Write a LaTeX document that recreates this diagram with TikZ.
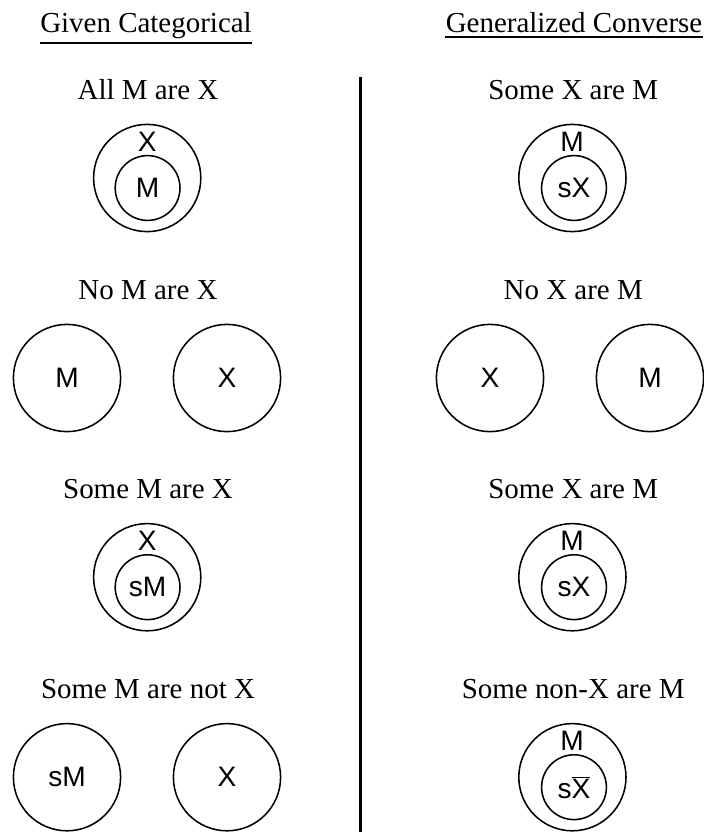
\documentclass[tikz,border=0pt]{standalone}
\usepackage{fontspec}
\setmainfont{Liberation Serif}
\setsansfont{Liberation Sans}
\begin{document}
\begin{tikzpicture}[
        head/.style = {anchor=base, inner sep=0pt, font=\fontsize{20.6}{24}\selectfont},
        caption/.style = {anchor=base, inner sep=0pt, font=\fontsize{20.6}{24}\selectfont},
        big/.style = {circle, draw, line width=1.1pt, minimum size=2.68cm, inner sep=0pt},
        small/.style = {circle, draw, line width=1.1pt, minimum size=1.62cm, inner sep=0pt, font=\sffamily\fontsize{20}{24}\selectfont},
        letter/.style = {inner sep=0pt, font=\sffamily\fontsize{20}{24}\selectfont}
    ]
        \useasboundingbox (0,0) rectangle (17.6,-20.8);
        % headings
        \node[head] (given) at (3.65,-0.8) {Given Categorical};
        \node[head] (conv) at (14.35,-0.8) {Generalized Converse};
        \draw[line width=1.4pt] ([yshift=-3.3pt]given.south west) -- ([yshift=-3.3pt]given.south east);
        \draw[line width=1.4pt] ([yshift=-3.3pt]conv.south west) -- ([yshift=-3.3pt]conv.south east);
        \coordinate (top) at (9.02,-1.925);
        \coordinate (bottom) at (9.02,-20.8);
        \draw[line width=2.1pt] (top) -- (bottom);

        % All M are X
        \node[caption] (c1) at (3.7,-2.475) {All M are X};
        \node[big] (o1) at (3.68,-4.45) {};
        \node[small] (i1) at (3.69,-4.7) {M};
        \node[letter] (l1) at (3.68,-3.54) {X};
        \node[caption] (d1) at (14.33,-2.475) {Some X are M};
        \node[big] (p1) at (14.31,-4.45) {};
        \node[small] (j1) at (14.35,-4.7) {sX};
        \node[letter] (m1) at (14.3,-3.54) {M};

        % No M are X
        \node[caption] (c2) at (3.7,-7.475) {No M are X};
        \node[big, letter] (a2) at (1.675,-9.45) {M};
        \node[big, letter] (b2) at (5.675,-9.45) {X};
        \node[caption] (d2) at (14.33,-7.475) {No X are M};
        \node[big, letter] (e2) at (12.25,-9.45) {X};
        \node[big, letter] (f2) at (16.25,-9.45) {M};

        % Some M are X
        \node[caption] (c3) at (3.7,-12.45) {Some M are X};
        \node[big] (o3) at (3.68,-14.43) {};
        \node[small] (i3) at (3.69,-14.68) {sM};
        \node[letter] (l3) at (3.68,-13.52) {X};
        \node[caption] (d3) at (14.33,-12.45) {Some X are M};
        \node[big] (p3) at (14.31,-14.43) {};
        \node[small] (j3) at (14.35,-14.68) {sX};
        \node[letter] (m3) at (14.3,-13.52) {M};

        % Some M are not X
        \node[caption] (c4) at (3.7,-17.45) {Some M are not X};
        \node[big, letter] (a4) at (1.675,-19.43) {sM};
        \node[big, letter] (b4) at (5.675,-19.43) {X};
        \node[caption] (d4) at (14.33,-17.45) {Some non-X are M};
        \node[big] (p4) at (14.31,-19.43) {};
        \node[small] (j4) at (14.35,-19.68) {s$\overline{\mbox{X}}$};
        \node[letter] (m4) at (14.3,-18.52) {M};
    \end{tikzpicture}
\end{document}
